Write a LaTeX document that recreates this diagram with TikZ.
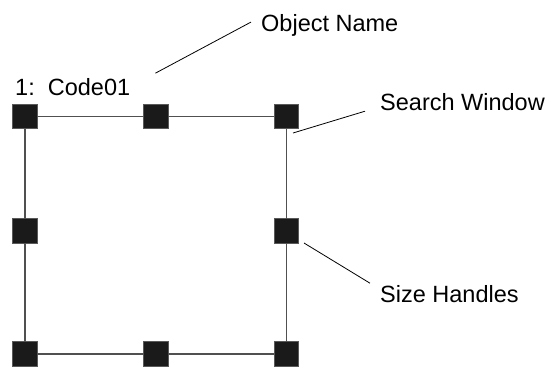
\documentclass[tikz,border=0pt]{standalone}
\usepackage{fontspec}
\setmainfont{Liberation Sans}
\definecolor{handlefill}{HTML}{1A1A1A}
\definecolor{framegray}{HTML}{505050}
\begin{document}
\begin{tikzpicture}[x=1pt,y=-1pt,
  handle/.style={draw=gray!70!black,line width=0.6pt,fill=handlefill,minimum size=24.5pt,inner sep=0pt,outer sep=0pt},
  frame/.style={draw=framegray,line width=1.2pt},
  leader/.style={draw=black,line width=0.8pt},
  label/.style={anchor=base west,inner sep=0pt,font=\fontsize{23.5}{28}\selectfont}]
\useasboundingbox (0,0) rectangle (552,367);
% handles
\node[handle] (tl) at (25,116.5) {};
\node[handle] (tm) at (156,116.5) {};
\node[handle] (tr) at (286.5,116.5) {};
\node[handle] (ml) at (25,231) {};
\node[handle] (mr) at (286.5,231) {};
\node[handle] (bl) at (25,354) {};
\node[handle] (bm) at (156,354) {};
\node[handle] (br) at (286.5,354) {};
% frame
\draw[frame] (tl) -- (tm);
\draw[frame] (tm) -- (tr);
\draw[frame] (tr) -- (mr);
\draw[frame] (mr) -- (br);
\draw[frame] (br) -- (bm);
\draw[frame] (bm) -- (bl);
\draw[frame] (bl) -- (ml);
\draw[frame] (ml) -- (tl);
% labels
\node[label] (code) at (15,95) {1:\ \ Code01};
\node[label] (objname) at (261,31) {Object Name};
\node[label] (sw) at (380,110.5) {Search Window};
\node[label] (sh) at (380,302.5) {Size Handles};
% leaders
\draw[leader] ([shift={(25,-13.4)}]code.east) -- ([shift={(-10,-2.85)}]objname.west);
\draw[leader] ([shift={(-5.75,4.25)}]tr.south east) -- ([shift={(-15,9.1)}]sw.west);
\draw[leader] ([shift={(5.25,-0.25)}]mr.south east) -- ([shift={(-10,-10.9)}]sh.west);
\end{tikzpicture}
\end{document}
